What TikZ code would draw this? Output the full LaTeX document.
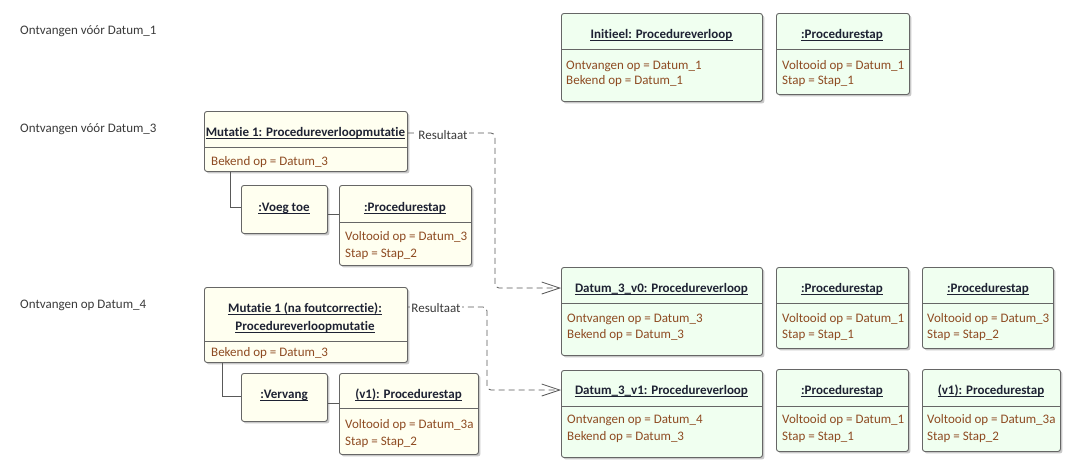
\documentclass[tikz,border=0pt]{standalone}
\usepackage{fontspec}
\setmainfont{Carlito}[Ligatures={NoCommon,NoRequired,NoContextual}]
\usetikzlibrary{shadows,arrows.meta}
\definecolor{gfill}{HTML}{F0FFF0}
\definecolor{yfill}{HTML}{FFFFF0}
\definecolor{bord}{HTML}{666666}
\definecolor{attrc}{HTML}{8E4B22}
\definecolor{ttlc}{HTML}{1E2233}
\definecolor{lblc}{HTML}{3A3A3A}
\tikzset{
  box/.style={draw=bord, line width=0.9pt, rounded corners=2.5pt, anchor=north west, inner sep=0pt,
    drop shadow={shadow xshift=2pt, shadow yshift=-2pt, fill=black!30, opacity=0.7}},
  gbox/.style={box, fill=gfill},
  ybox/.style={box, fill=yfill},
  ttlt/.style={font=\fontsize{13}{15}\selectfont\bfseries, text=ttlc, inner sep=0pt, anchor=base},
  attrt/.style={font=\fontsize{13}{15}\selectfont, text=attrc, inner sep=0pt, anchor=base west},
  lbl/.style={font=\fontsize{13}{15}\selectfont, text=lblc, inner sep=0pt, anchor=base west},
  rlab/.style={font=\fontsize{13}{15}\selectfont, text=lblc, inner sep=1.5pt, fill=white},
  div/.style={draw=bord, line width=0.8pt},
  uline/.style={draw=ttlc, line width=0.7pt},
  link/.style={draw=black!65, line width=0.9pt},
  res/.style={draw=black!65, line width=0.8pt, dash pattern=on 6pt off 4pt, rounded corners=4pt,
    -{Straight Barb[length=18pt,width=12pt,line width=0.8pt]}},
}
\newcommand\boxttl[4]{%
  \node[ttlt] (#1) at (#2,#3) {#4};
  \draw[uline] ([yshift=-2.5pt]#1.base west) -- ([yshift=-2.5pt]#1.base east);}
\newcommand\divline[2]{\draw[div] (#1.west |- 0,#2) -- (#1.east |- 0,#2);}
\begin{document}
\begin{tikzpicture}[x=1pt,y=-1pt]
\fill[white] (0,0) rectangle (1080,474);
\useasboundingbox (0,0) rectangle (1080,474);

% left labels
\node[lbl] (l1) at (20,34) {Ontvangen vóór Datum\_1};
\node[lbl] (l2) at (20,132) {Ontvangen vóór Datum\_3};
\node[lbl] (l3) at (20,308) {Ontvangen op Datum\_4};

% top row
\node[gbox, minimum width=201pt, minimum height=88pt] (ini) at (561,13) {};
\divline{ini}{49}
\boxttl{init}{661.5}{38}{Initieel: Procedureverloop}
\node[attrt] (inia) at (566,69) {Ontvangen op = Datum\_1};
\node[attrt] (inib) at (566,84) {Bekend op = Datum\_1};

\node[gbox, minimum width=133pt, minimum height=81pt] (ps0) at (776,13) {};
\divline{ps0}{49}
\boxttl{ps0t}{842}{38}{:Procedurestap}
\node[attrt] (ps0a) at (782,69) {Voltooid op = Datum\_1};
\node[attrt] (ps0b) at (782,84) {Stap = Stap\_1};

% mutatie 1
\node[ybox, minimum width=203pt, minimum height=60pt] (mut1) at (204,111) {};
\boxttl{mut1t}{305.5}{136}{Mutatie 1: Procedureverloopmutatie}
\divline{mut1}{147}
\node[attrt] (mut1a) at (211,165) {Bekend op = Datum\_3};

\node[ybox, minimum width=86pt, minimum height=48pt] (voeg) at (241,185) {};
\boxttl{voegt}{284}{211}{:Voeg toe}

\node[ybox, minimum width=132pt, minimum height=80pt] (ps1) at (339,185) {};
\divline{ps1}{222}
\boxttl{ps1t}{405}{211}{:Procedurestap}
\node[attrt] (ps1a) at (345,240) {Voltooid op = Datum\_3};
\node[attrt] (ps1b) at (345,257) {Stap = Stap\_2};

\draw[link] (mut1.south -| 230,0) |- (voeg.west |- 0,207);
\draw[link] (voeg.east |- 0,214) -- (ps1.west |- 0,214);

% mutatie 1 na foutcorrectie
\node[ybox, minimum width=203pt, minimum height=75pt] (mut2) at (204,287) {};
\boxttl{mut2ta}{305}{312}{Mutatie 1 (na foutcorrectie):}
\boxttl{mut2tb}{305}{330}{Procedureverloopmutatie}
\divline{mut2}{341}
\node[attrt] (mut2a) at (211,356) {Bekend op = Datum\_3};

\node[ybox, minimum width=86pt, minimum height=48pt] (verv) at (241,373) {};
\boxttl{vervt}{284}{398}{:Vervang}

\node[ybox, minimum width=139pt, minimum height=81pt] (ps2) at (339,373) {};
\divline{ps2}{408}
\boxttl{ps2t}{408.5}{398}{(v1): Procedurestap}
\node[attrt] (ps2a) at (345,428) {Voltooid op = Datum\_3a};
\node[attrt] (ps2b) at (345,445) {Stap = Stap\_2};

\draw[link] (mut2.south -| 222,0) |- (verv.west |- 0,396);
\draw[link] (verv.east |- 0,403) -- (ps2.west |- 0,403);

% result row v0
\node[gbox, minimum width=201pt, minimum height=88pt] (d0) at (561,267) {};
\divline{d0}{303}
\boxttl{d0t}{661.5}{292}{Datum\_3\_v0: Procedureverloop}
\node[attrt] (d0a) at (567,322) {Ontvangen op = Datum\_3};
\node[attrt] (d0b) at (567,338) {Bekend op = Datum\_3};

\node[gbox, minimum width=132pt, minimum height=81pt] (ps3) at (776,267) {};
\divline{ps3}{303}
\boxttl{ps3t}{842}{292}{:Procedurestap}
\node[attrt] (ps3a) at (782,322) {Voltooid op = Datum\_1};
\node[attrt] (ps3b) at (782,338) {Stap = Stap\_1};

\node[gbox, minimum width=131pt, minimum height=81pt] (ps4) at (922,267) {};
\divline{ps4}{303}
\boxttl{ps4t}{988}{292}{:Procedurestap}
\node[attrt] (ps4a) at (927,322) {Voltooid op = Datum\_3};
\node[attrt] (ps4b) at (927,338) {Stap = Stap\_2};

% result row v1
\node[gbox, minimum width=201pt, minimum height=87pt] (d1) at (561,370) {};
\divline{d1}{406}
\boxttl{d1t}{661.5}{394}{Datum\_3\_v1: Procedureverloop}
\node[attrt] (d1a) at (567,423) {Ontvangen op = Datum\_4};
\node[attrt] (d1b) at (567,440) {Bekend op = Datum\_3};

\node[gbox, minimum width=132pt, minimum height=82pt] (ps5) at (776,369) {};
\divline{ps5}{406}
\boxttl{ps5t}{842}{394}{:Procedurestap}
\node[attrt] (ps5a) at (782,423) {Voltooid op = Datum\_1};
\node[attrt] (ps5b) at (782,440) {Stap = Stap\_1};

\node[gbox, minimum width=138pt, minimum height=82pt] (ps6) at (922,369) {};
\divline{ps6}{406}
\boxttl{ps6t}{991}{394}{(v1): Procedurestap}
\node[attrt] (ps6a) at (927,423) {Voltooid op = Datum\_3a};
\node[attrt] (ps6b) at (927,440) {Stap = Stap\_2};

% Resultaat connectors
\coordinate (A1) at (mut1.east |- 0,133);
\coordinate (B1) at (d0.west |- 0,288);
\coordinate (r1) at (495,0);
\draw[res] (A1) -- (A1 -| r1) -- (B1 -| r1) -- (B1);
\node[rlab] (res1) at (443,135) {Resultaat};

\coordinate (A2) at (mut2.east |- 0,307);
\coordinate (B2) at (d1.west |- 0,390);
\coordinate (r2) at (487,0);
\draw[res] (A2) -- (A2 -| r2) -- (B2 -| r2) -- (B2);
\node[rlab] (res2) at (436,308) {Resultaat};
\end{tikzpicture}
\end{document}
